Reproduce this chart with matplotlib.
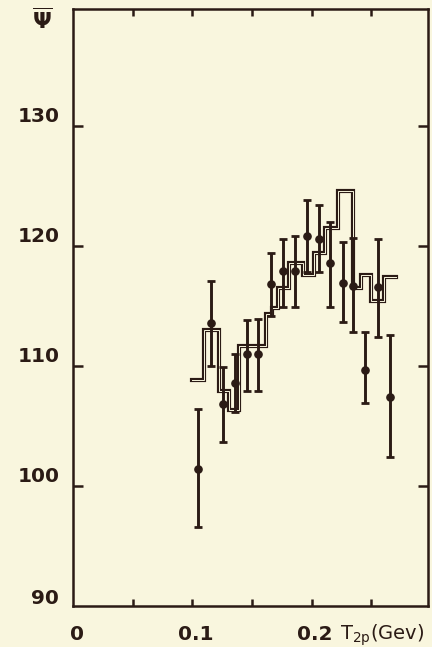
import matplotlib
matplotlib.use("Agg")
import matplotlib.pyplot as plt
import numpy as np

# ---- data ----
x_pts = [0.105, 0.116, 0.126, 0.136, 0.146, 0.155, 0.166, 0.176, 0.186,
         0.196, 0.206, 0.215, 0.226, 0.235, 0.245, 0.256, 0.266]
y_pts = [101.4, 113.6, 106.8, 108.6, 111.0, 111.0, 116.8, 117.9, 117.9,
         120.8, 120.6, 118.6, 116.9, 116.7, 109.7, 116.6, 107.4]
err_hi = [5.0, 3.5, 3.1, 2.4, 2.8, 2.9, 2.6, 2.7, 2.9,
          3.0, 2.8, 3.4, 3.4, 4.0, 3.1, 4.0, 5.2]
err_lo = [4.8, 3.6, 3.1, 2.4, 3.1, 3.1, 2.6, 3.0, 3.0,
          3.0, 2.8, 3.7, 3.2, 3.9, 2.8, 4.2, 5.0]

hist_edges = [0.100, 0.110, 0.122, 0.131, 0.139, 0.162, 0.167, 0.172, 0.181,
              0.193, 0.202, 0.211, 0.222, 0.235, 0.241, 0.250, 0.261, 0.271]
hist_vals = [108.8, 113.0, 107.9, 106.3, 111.7, 114.3, 114.8, 116.5, 118.6,
             117.6, 119.4, 121.5, 124.6, 116.5, 117.6, 115.4, 117.4]

y_tick_vals = [90, 100, 110, 120, 130]
x_tick_labels = ["0", "0.1", "0.2"]
x_tick_vals = [0.0, 0.1, 0.2]

BG = "#F9F6DE"
INK = "#2B1B15"

W, H = 432, 647
fig = plt.figure(figsize=(W / 100, H / 100), dpi=100, facecolor=BG)
ax = fig.add_axes([73 / W, 1 - 606 / H, (428 - 73) / W, (606 - 9) / H])
ax.set_facecolor(BG)
ax.set_xlim(0, 0.2975)
ax.set_ylim(90, 139.75)

# histogram (slightly hollow double stroke, as in the drawing)
xs = np.repeat(hist_edges, 2)[1:-1]
ys = np.repeat(hist_vals, 2)
ax.plot(xs, ys, color=INK, lw=3.0, solid_joinstyle="miter", zorder=2)
ax.plot(xs, ys, color=BG, lw=0.7, solid_joinstyle="miter", zorder=2.1)

# data points with error bars
ax.errorbar(x_pts, y_pts, yerr=[err_lo, err_hi], fmt="o", color=INK,
            ms=5.2, elinewidth=2.1, capsize=3.2, capthick=2.0, zorder=3)

for s in ax.spines.values():
    s.set_color(INK)
    s.set_linewidth(1.8)

ax.set_xticks([0.05, 0.1, 0.15, 0.2, 0.25])
ax.set_yticks([100, 110, 120, 130])
ax.tick_params(axis="both", which="both", direction="in", colors=INK,
               labelleft=False, labelbottom=False, width=1.8,
               top=True, right=True)
ax.tick_params(axis="y", length=7)
ax.tick_params(axis="x", length=5)

# tick labels as text
for v in y_tick_vals:
    ax.text(-0.0115, v + 0.75 if v > 90 else v + 0.6, str(v),
            ha="right", va="center", fontsize=14.5, fontweight="bold",
            color=INK, clip_on=False)
for v, lab in zip(x_tick_vals, x_tick_labels):
    ax.text(v + 0.003, 87.6, lab, ha="center", va="center", fontsize=14.5,
            fontweight="bold", color=INK, clip_on=False)
ax.text(0.2235, 87.6, r"T$_{2\mathrm{p}}$(Gev)", ha="left", va="center",
        fontsize=14, color=INK, clip_on=False)
fig.text(42 / W, 1 - 20 / H, r"$\overline{\mathbf{\Psi}}$", ha="center",
         va="center", fontsize=16, color=INK)

fig.savefig("out.png", dpi=100, facecolor=BG)
